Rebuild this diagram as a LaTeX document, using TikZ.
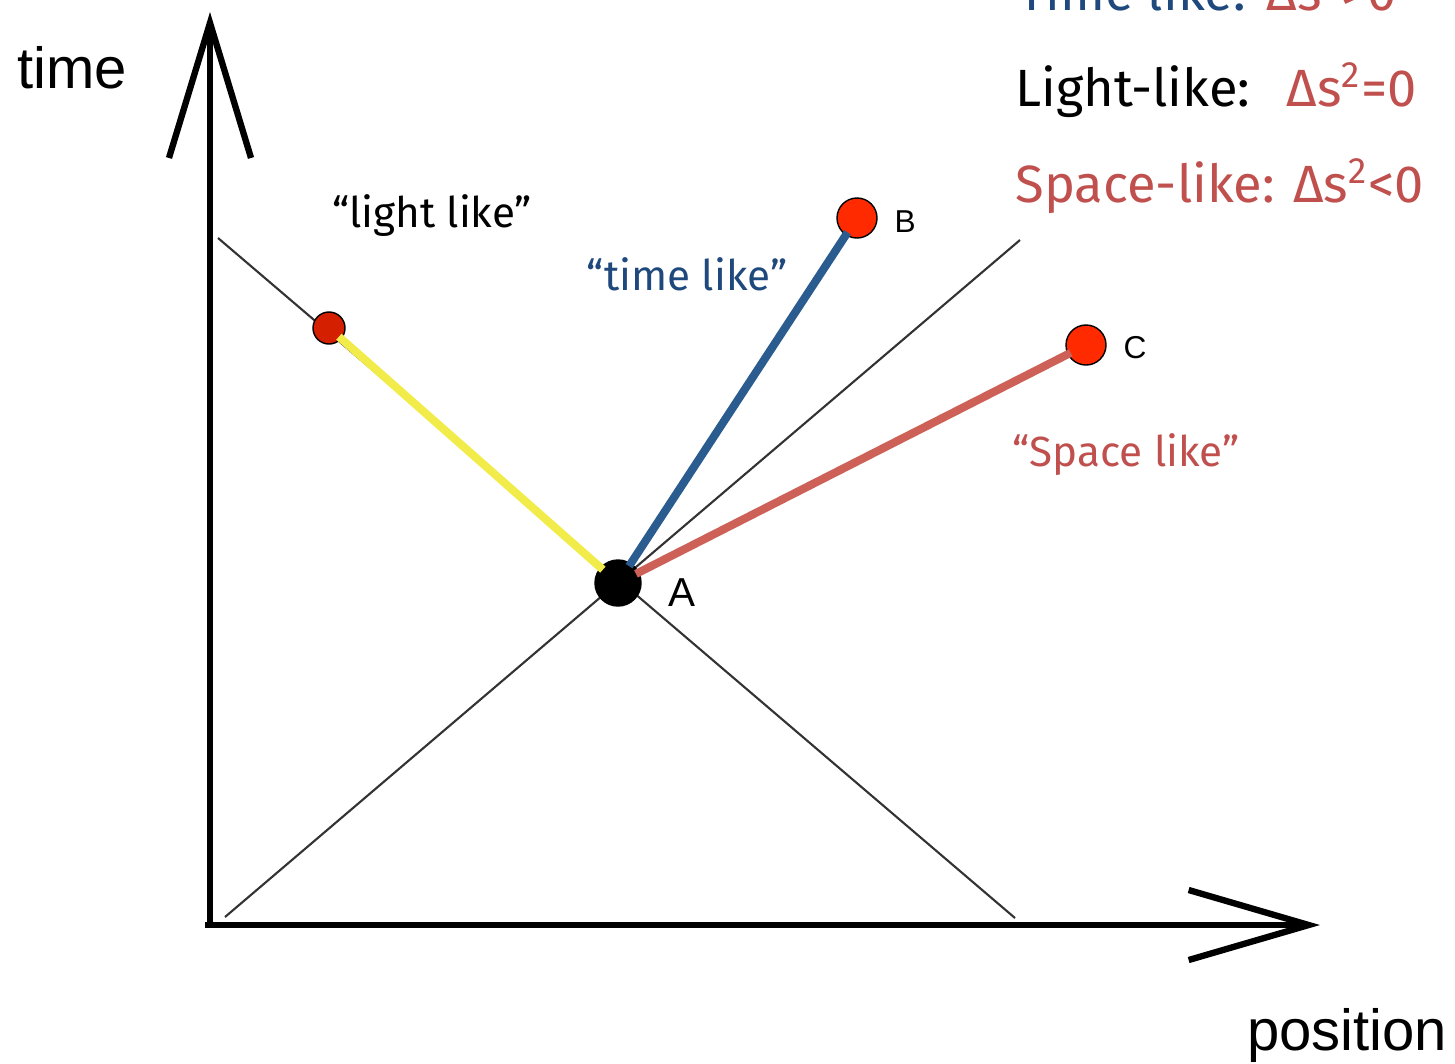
\documentclass[tikz,border=0pt]{standalone}
\usepackage{fontspec}
\setmainfont{Fira Sans}
\newfontfamily\arialfont{Liberation Sans}
\usetikzlibrary{arrows.meta}

\definecolor{tlblue}{HTML}{1F497D}
\definecolor{lnblue}{HTML}{2B5C8F}
\definecolor{slred}{HTML}{C0504D}
\definecolor{lnred}{HTML}{CD6158}
\definecolor{lnyellow}{HTML}{F2EC4B}
\definecolor{dotred}{HTML}{FF2A00}
\definecolor{dotdark}{HTML}{D42000}

\tikzset{
  axis/.style={line width=1.8pt},
  cone/.style={line width=0.6pt, black!80},
  event/.style={circle, draw=black, line width=0.4pt, inner sep=0pt, minimum size=0.4cm, fill=dotred},
  world/.style={line width=2.3pt, shorten <=-1pt, shorten >=-1pt},
  lbl/.style={font=\arialfont\fontsize{9}{10}\selectfont, anchor=base west, inner sep=0pt},
  quote/.style={anchor=base, inner sep=0pt, font=\fontsize{12}{14}\selectfont},
  slide/.style={anchor=base west, inner sep=0pt, font=\fontsize{14.9}{18}\selectfont}
}
\newcommand{\sq}{\textsuperscript{2}}

\begin{document}
\begin{tikzpicture}[x=0.01cm, y=-0.01cm]
  \useasboundingbox (0,0) rectangle (1455,1063);
  \clip (0,0) rectangle (1455,1063);

  % Axes
  \coordinate (o) at (210,925);
  \coordinate (t) at (210,12);
  \coordinate (x) at (1320,925);
  \draw[axis, -{Straight Barb[length=1.35cm, width=0.82cm]}] (o) -- (t);
  \draw[axis, -{Straight Barb[length=1.2cm, width=0.7cm]}] (205,925) -- (x);
  \node[anchor=base, inner sep=0pt, font=\arialfont\fontsize{16.5}{18}\selectfont] (tlab) at (72,88) {time};
  \node[anchor=base, inner sep=0pt, font=\arialfont\fontsize{16.5}{18}\selectfont] (xlab) at (1347,1050) {position};

  % Light cone
  \coordinate (c1) at (218,238);
  \coordinate (c2) at (1015,918);
  \coordinate (c3) at (225,917);
  \coordinate (c4) at (1020,240);
  \draw[cone] (c1) -- (c2);
  \draw[cone] (c3) -- (c4);

  % Events
  \node[event, fill=black, minimum size=0.46cm] (a) at (618,583) {};
  \node[event] (b) at (857,218) {};
  \node[event] (c) at (1086,345) {};
  \node[event, fill=dotdark, minimum size=0.32cm] (p) at (329,328) {};
  \node[lbl, font=\arialfont\fontsize{11.5}{12}\selectfont] (alab) at (668,606) {A};
  \node[lbl] (blab) at (894,232) {B};
  \node[lbl] (clab) at (1123,358) {C};

  % Connectors
  \draw[world, lnyellow] (p) -- (a);
  \draw[world, lnblue] (a) -- (b);
  \draw[world, lnred] (a) -- (c);

  % Labels
  \node[quote] (ll) at (432,227) {“light like”};
  \node[quote, text=tlblue] (tl) at (687,290) {“time like”};
  \node[quote, text=slred] (sl) at (1126,466) {“Space like”};

  % Legend
  \node[slide] (leg1) at (1018,10) {\textcolor{tlblue}{Time like:}\hspace{0.4em}\textcolor{slred}{Δs\sq>0}};
  \node[slide] (leg2) at (1015,106) {Light-like:\hspace{0.7em}\textcolor{slred}{Δs\sq=0}};
  \node[slide, text=slred] (leg3) at (1015,202) {Space-like: Δs\sq<0};
\end{tikzpicture}
\end{document}
